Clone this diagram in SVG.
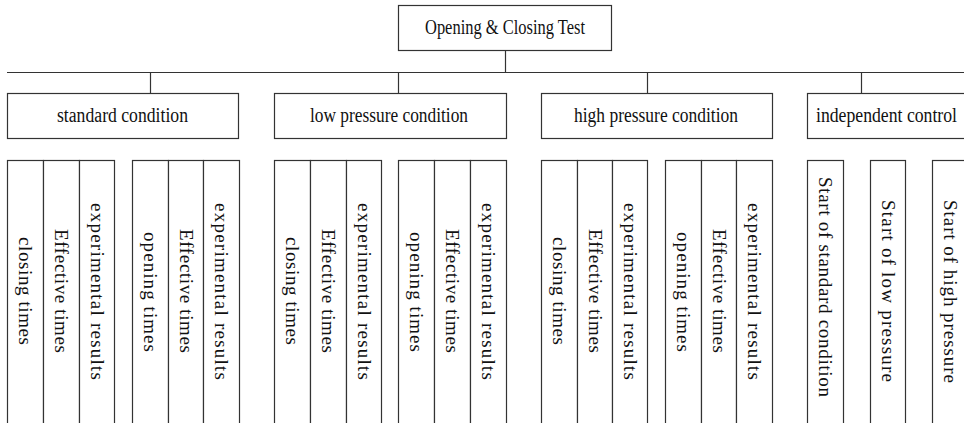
<svg xmlns="http://www.w3.org/2000/svg" width="964" height="423" viewBox="0 0 964 423">
<style>
rect{fill:#fff;stroke:#333;stroke-width:1.2}
line{stroke:#333;stroke-width:1.2}
text{font-family:"Liberation Serif","Times New Roman",serif;font-size:20px;fill:#111}
.h{text-anchor:middle}
.v{text-anchor:middle;font-size:19px}
</style>
<rect width="964" height="423" style="fill:#fff;stroke:none"/>
<g id="connectors">
<line x1="505.5" y1="50" x2="505.5" y2="72.5"/>
<line x1="7" y1="72.5" x2="970" y2="72.5"/>
<line x1="150.5" y1="72.5" x2="150.5" y2="93.5"/>
<line x1="398.5" y1="72.5" x2="398.5" y2="93.5"/>
<line x1="647.5" y1="72.5" x2="647.5" y2="93.5"/>
<line x1="861.5" y1="72.5" x2="861.5" y2="93.5"/>
</g>
<g id="root"><rect x="398.5" y="5.5" width="213" height="45"/><text class="h" x="505" y="34" textLength="160" lengthAdjust="spacingAndGlyphs">Opening &amp; Closing Test</text></g>
<g id="standard"><rect x="7.5" y="93.5" width="231" height="45"/><text class="h" x="122.5" y="122" textLength="131" lengthAdjust="spacingAndGlyphs">standard condition</text></g>
<g id="low"><rect x="274.5" y="93.5" width="232" height="45"/><text class="h" x="389" y="122" textLength="158" lengthAdjust="spacingAndGlyphs">low pressure condition</text></g>
<g id="high"><rect x="541.5" y="93.5" width="231" height="45"/><text class="h" x="656" y="122" textLength="164" lengthAdjust="spacingAndGlyphs">high pressure condition</text></g>
<g id="independent"><rect x="807.5" y="93.5" width="170" height="45"/><text x="816" y="122" textLength="141" lengthAdjust="spacingAndGlyphs">independent control</text></g>

<g id="std-closing"><rect x="7.5" y="160.5" width="36" height="280"/><text class="v" transform="translate(19,291) rotate(90)" textLength="108">closing times</text></g>
<g id="std-eff1"><rect x="43.5" y="160.5" width="36" height="280"/><text class="v" transform="translate(55,291) rotate(90)" textLength="124">Effective times</text></g>
<g id="std-exp1"><rect x="79.5" y="160.5" width="35" height="280"/><text class="v" transform="translate(90.5,291.5) rotate(90)" textLength="177">experimental results</text></g>
<g id="std-opening"><rect x="132.5" y="160.5" width="36" height="280"/><text class="v" transform="translate(144,292) rotate(90)" textLength="120">opening times</text></g>
<g id="std-eff2"><rect x="168.5" y="160.5" width="35" height="280"/><text class="v" transform="translate(179.5,291) rotate(90)" textLength="124">Effective times</text></g>
<g id="std-exp2"><rect x="203.5" y="160.5" width="36" height="280"/><text class="v" transform="translate(215,291.5) rotate(90)" textLength="177">experimental results</text></g>

<g id="low-closing"><rect x="274.5" y="160.5" width="36" height="280"/><text class="v" transform="translate(286,291) rotate(90)" textLength="108">closing times</text></g>
<g id="low-eff1"><rect x="310.5" y="160.5" width="36" height="280"/><text class="v" transform="translate(322,291) rotate(90)" textLength="124">Effective times</text></g>
<g id="low-exp1"><rect x="346.5" y="160.5" width="35" height="280"/><text class="v" transform="translate(357.5,291.5) rotate(90)" textLength="177">experimental results</text></g>
<g id="low-opening"><rect x="398.5" y="160.5" width="36" height="280"/><text class="v" transform="translate(410,292) rotate(90)" textLength="120">opening times</text></g>
<g id="low-eff2"><rect x="434.5" y="160.5" width="36" height="280"/><text class="v" transform="translate(446,291) rotate(90)" textLength="124">Effective times</text></g>
<g id="low-exp2"><rect x="470.5" y="160.5" width="36" height="280"/><text class="v" transform="translate(482,291.5) rotate(90)" textLength="177">experimental results</text></g>

<g id="high-closing"><rect x="541.5" y="160.5" width="36" height="280"/><text class="v" transform="translate(553,291) rotate(90)" textLength="108">closing times</text></g>
<g id="high-eff1"><rect x="577.5" y="160.5" width="35" height="280"/><text class="v" transform="translate(588.5,291) rotate(90)" textLength="124">Effective times</text></g>
<g id="high-exp1"><rect x="612.5" y="160.5" width="35" height="280"/><text class="v" transform="translate(623.5,291.5) rotate(90)" textLength="177">experimental results</text></g>
<g id="high-opening"><rect x="665.5" y="160.5" width="36" height="280"/><text class="v" transform="translate(677,292) rotate(90)" textLength="120">opening times</text></g>
<g id="high-eff2"><rect x="701.5" y="160.5" width="35" height="280"/><text class="v" transform="translate(712.5,291) rotate(90)" textLength="124">Effective times</text></g>
<g id="high-exp2"><rect x="736.5" y="160.5" width="36" height="280"/><text class="v" transform="translate(748,291.5) rotate(90)" textLength="177">experimental results</text></g>

<g id="start-standard"><rect x="807.5" y="160.5" width="36" height="280"/><text class="v" transform="translate(819,287) rotate(90)" textLength="220">Start of standard condition</text></g>
<g id="start-low"><rect x="870.5" y="160.5" width="35" height="280"/><text class="v" transform="translate(881.5,291) rotate(90)" textLength="182">Start of low pressure</text></g>
<g id="start-high"><rect x="932.5" y="160.5" width="36" height="280"/><text class="v" transform="translate(944,291.5) rotate(90)" textLength="183">Start of high pressure</text></g>
</svg>
